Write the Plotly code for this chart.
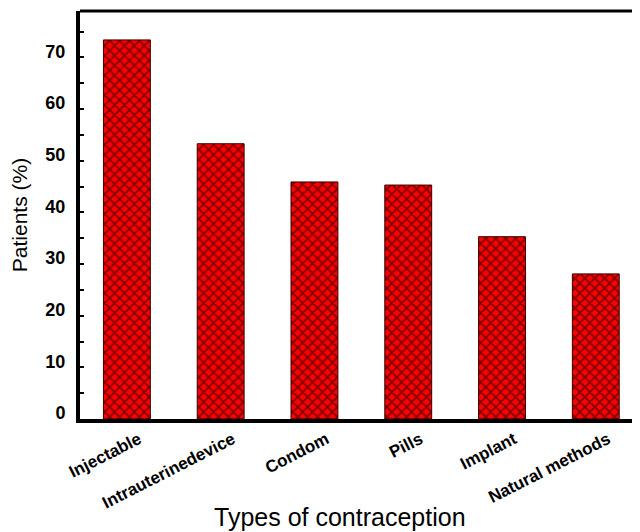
import plotly.graph_objects as go

categories = ["Injectable", "Intrauterinedevice", "Condom", "Pills", "Implant", "Natural methods"]
patients_pct = [73.4, 53.3, 45.9, 45.3, 35.3, 28.1]
y_ticks = [0, 10, 20, 30, 40, 50, 60, 70]

FONT = "Arial, Liberation Sans, sans-serif"

fig = go.Figure()
fig.add_trace(go.Bar(
    x=categories,
    y=patients_pct,
    width=0.5,
    marker=dict(
        color="#ff0000",
        line=dict(color="#3a0000", width=1),
        pattern=dict(shape="x", fgcolor="black", bgcolor="#ff0000", size=7, solidity=0.45),
    ),
))
# right-side thin axis with ticks
fig.add_trace(go.Scatter(x=[categories[0]], y=[0], yaxis="y2", mode="markers",
                         marker=dict(opacity=0), showlegend=False, hoverinfo="skip"))

fig.update_layout(
    width=640, height=532,
    margin=dict(l=72, r=10, t=3, b=121),
    paper_bgcolor="white", plot_bgcolor="white",
    showlegend=False,
    bargap=0.5,
    font=dict(family=FONT, color="black"),
    xaxis=dict(
        type="category",
        range=[-0.5, 5.45],
        automargin=False,
        showline=True, linecolor="black", linewidth=4,
        ticks="", tickangle=-27,
        tickfont=dict(family=FONT, size=17, color="black", weight="bold"),
        ticklabelshift=12,
        showgrid=False, zeroline=False,
    ),
    yaxis=dict(
        range=[0, 79],
        automargin=False,
        tickvals=y_ticks,
        showline=True, linecolor="black", linewidth=4,
        ticks="inside", ticklen=4, tickwidth=2, tickcolor="black",
        minor=dict(dtick=5, ticks="inside", ticklen=4, tickwidth=2, tickcolor="black"),
        tickfont=dict(family=FONT, size=18, color="black", weight="bold"),
        ticklabelstandoff=7,
        ticklabelshift=-6,
        title=dict(text="Patients (%)", font=dict(family=FONT, size=21), standoff=20),
        showgrid=False, zeroline=False,
    ),
    yaxis2=dict(
        range=[0, 79], overlaying="y", side="right",
        automargin=False,
        showline=True, linecolor="#333333", linewidth=1,
        tickvals=y_ticks, ticks="inside", ticklen=3, tickwidth=2, tickcolor="black",
        minor=dict(dtick=5, ticks="inside", ticklen=3, tickwidth=2, tickcolor="black"),
        showticklabels=False, showgrid=False, zeroline=False,
    ),
    shapes=[
        dict(type="line", xref="paper", yref="paper", x0=0, x1=1, y0=1, y1=1,
             line=dict(color="black", width=3)),
    ],
    annotations=[
        dict(text="Types of contraception", xref="paper", yref="paper",
             x=0.466, y=-0.24, xanchor="center", yanchor="middle", showarrow=False,
             font=dict(family=FONT, size=25, color="black")),
    ],
)

fig.write_html("out.html")
